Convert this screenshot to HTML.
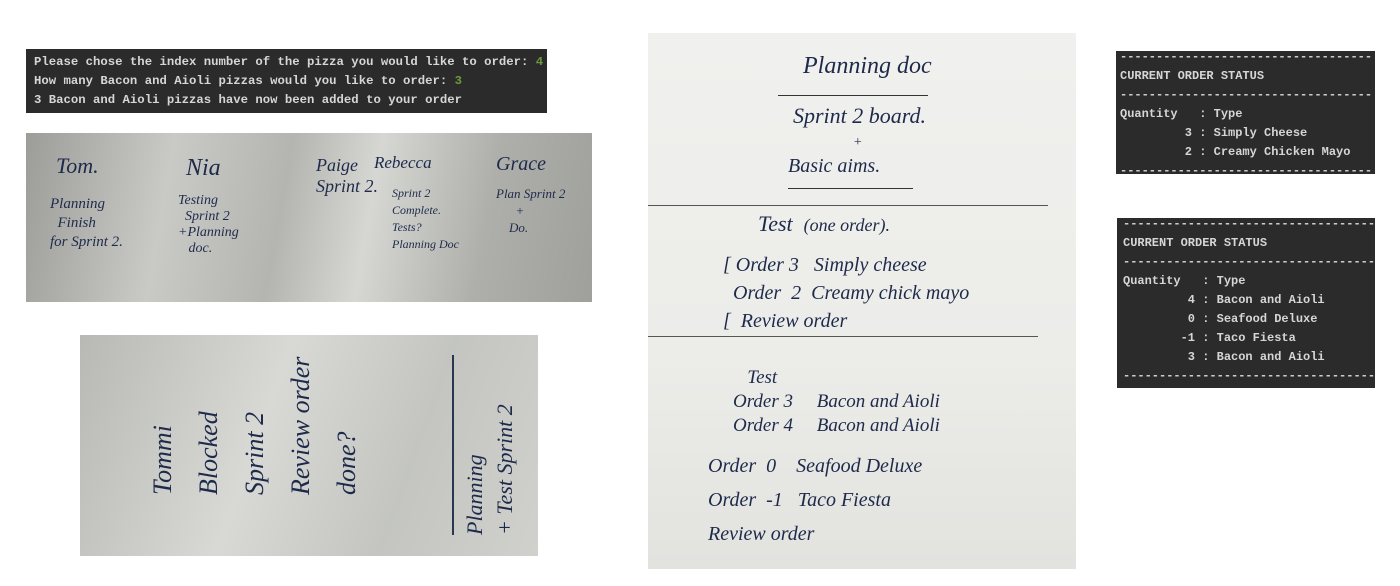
<!DOCTYPE html>
<html><head><style>
body{margin:0;width:1400px;height:586px;background:#fff;position:relative;overflow:hidden;font-family:"Liberation Sans",sans-serif}
.t{position:absolute;background:#2b2b2b;color:#d6d6d6;font-family:"Liberation Mono",monospace;font-size:12px;font-weight:bold;white-space:pre;overflow:hidden;line-height:19px}
.p{position:absolute;overflow:hidden}
.h{position:absolute;font-family:"Liberation Serif",serif;font-style:italic;color:#1e2a4a;white-space:pre}
.g{color:#6a9a3a}
</style></head><body>
<div class="t" style="left:26px;top:49px;width:521px;height:64px;font-size:12.3px"><div style="padding:4px 0 0 8px">Please chose the index number of the pizza you would like to order: <span class="g">4</span>
How many Bacon and Aioli pizzas would you like to order: <span class="g">3</span>
3 Bacon and Aioli pizzas have now been added to your order</div></div>

<div class="t" style="left:1116px;top:51px;width:259px;height:123px"><div style="padding:0 0 0 4px;margin-top:-3px">-----------------------------------
CURRENT ORDER STATUS
-----------------------------------
Quantity   : Type
         3 : Simply Cheese
         2 : Creamy Chicken Mayo
-----------------------------------</div></div>

<div class="t" style="left:1117px;top:218px;width:258px;height:170px"><div style="padding:0 0 0 6px;margin-top:-3px">-----------------------------------
CURRENT ORDER STATUS
-----------------------------------
Quantity   : Type
         4 : Bacon and Aioli
         0 : Seafood Deluxe
        -1 : Taco Fiesta
         3 : Bacon and Aioli
-----------------------------------</div></div>

<div class="p" style="left:26px;top:133px;width:566px;height:169px;background:linear-gradient(100deg,#9c9d99 0%,#c9cac6 25%,#b4b5b1 45%,#d6d7d3 60%,#aeafab 80%,#9fa09c 100%)">
<div class="h" style="left:30px;top:20px;font-size:22px">Tom.</div>
<div class="h" style="left:24px;top:62px;font-size:15px;line-height:19px">Planning
  Finish
for Sprint 2.</div>
<div class="h" style="left:160px;top:22px;font-size:24px">Nia</div>
<div class="h" style="left:152px;top:60px;font-size:14px;line-height:16px">Testing
  Sprint 2
+Planning
   doc.</div>
<div class="h" style="left:290px;top:22px;font-size:18px">Paige
Sprint 2.</div>
<div class="h" style="left:348px;top:20px;font-size:17px">Rebecca</div>
<div class="h" style="left:366px;top:52px;font-size:12px;line-height:17px">Sprint 2
Complete.
Tests?
Planning Doc</div>
<div class="h" style="left:470px;top:20px;font-size:20px">Grace</div>
<div class="h" style="left:470px;top:52px;font-size:13px;line-height:17px">Plan Sprint 2
      +
    Do.</div>
</div>

<div class="p" style="left:80px;top:335px;width:458px;height:221px;background:linear-gradient(110deg,#b8b9b5 0%,#d8d9d5 40%,#c4c5c1 70%,#d0d1cd 100%)">
<div class="h" style="left:60px;top:40px;font-size:26px;transform:rotate(-90deg);transform-origin:0 0;top:160px;line-height:46px">Tommi
Blocked
Sprint 2
Review order
done?</div>
<div style="position:absolute;left:372px;top:20px;width:2px;height:180px;background:#2a3550"></div>
<div class="h" style="left:380px;top:200px;font-size:22px;transform:rotate(-90deg);transform-origin:0 0;line-height:30px">Planning
+ Test Sprint 2</div>
</div>

<div class="p" style="left:648px;top:33px;width:428px;height:536px;background:linear-gradient(180deg,#f0f0ee 0%,#ecece9 60%,#e2e2df 100%)">
<div class="h" style="left:155px;top:20px;font-size:24px">Planning doc</div>
<div style="position:absolute;left:130px;top:62px;width:150px;height:1px;background:#333"></div>
<div class="h" style="left:145px;top:70px;font-size:22px">Sprint 2 board.</div>
<div class="h" style="left:205px;top:102px;font-size:14px">+</div>
<div class="h" style="left:140px;top:122px;font-size:20px">Basic aims.</div>
<div style="position:absolute;left:140px;top:155px;width:125px;height:1px;background:#333"></div>
<div style="position:absolute;left:0;top:172px;width:400px;height:1px;background:#555"></div>
<div class="h" style="left:110px;top:178px;font-size:22px">Test  <span style="font-size:18px">(one order).</span></div>
<div class="h" style="left:75px;top:218px;font-size:20px;line-height:28px">[ Order 3   Simply cheese
  Order  2  Creamy chick mayo
[  Review order</div>
<div style="position:absolute;left:0;top:303px;width:390px;height:1px;background:#555"></div>
<div class="h" style="left:85px;top:333px;font-size:19px;line-height:24px">   Test
Order 3     Bacon and Aioli
Order 4     Bacon and Aioli</div>
<div class="h" style="left:50px;top:416px;font-size:20px;line-height:34px">  Order  0    Seafood Deluxe
  Order  -1   Taco Fiesta
  Review order</div>
</div>
</body></html>
